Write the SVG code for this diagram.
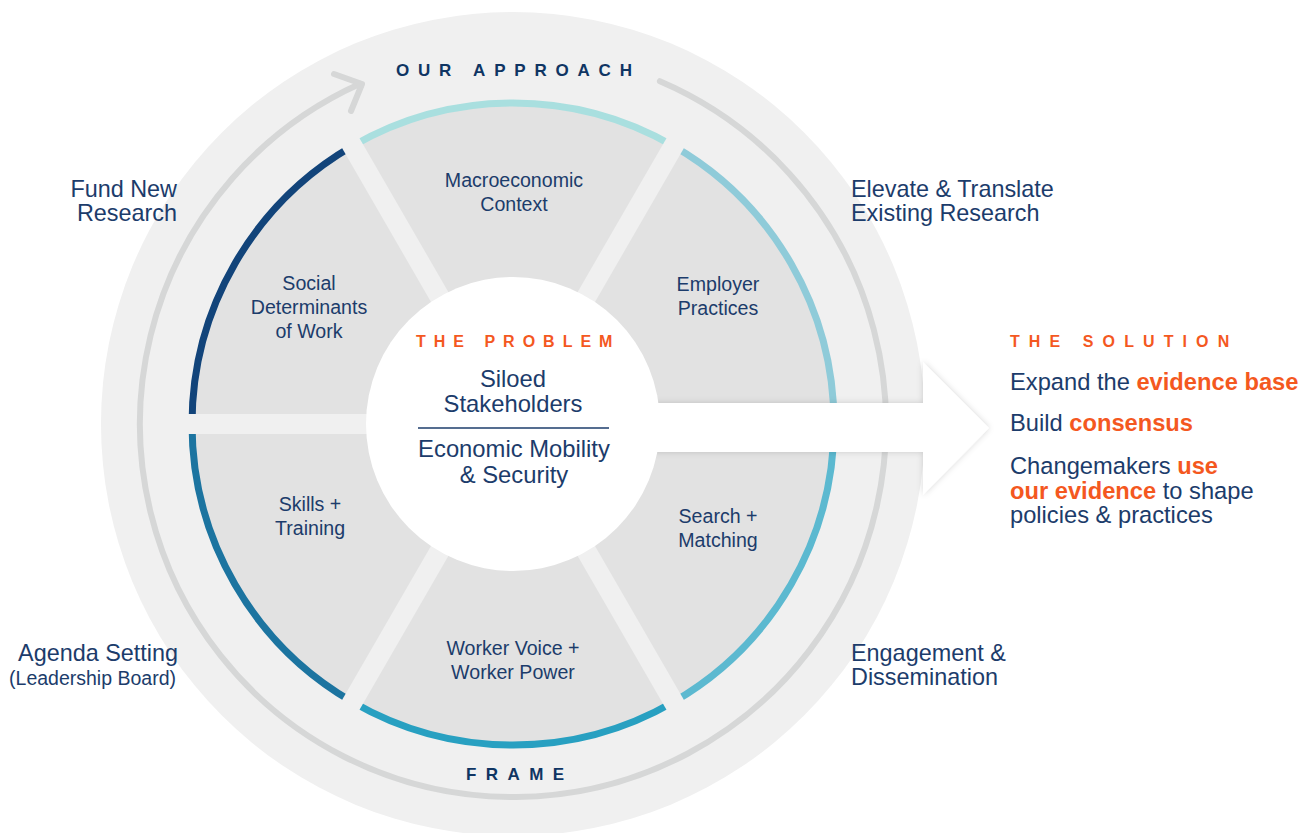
<svg xmlns="http://www.w3.org/2000/svg" width="1311" height="833" viewBox="0 0 1311 833">
  <defs>
    <filter id="soft" x="-20%" y="-40%" width="140%" height="180%">
      <feDropShadow dx="0" dy="0" stdDeviation="3" flood-color="#000" flood-opacity="0.16"/>
    </filter>
  </defs>
  <style>
    .navy { fill: #1c3c6b; font-family: "Liberation Sans", Arial, sans-serif; }
    .seg { font-size: 19.6px; text-anchor: middle; }
    .outer { font-size: 23.4px; }
    .mid { font-size: 23.8px; text-anchor: middle; }
    .sol { font-size: 23.7px; }
    .head { fill: #0f3563; font-family: "Liberation Sans", Arial, sans-serif; font-weight: bold; font-size: 17px; }
    .orange { fill: #f4581f; font-family: "Liberation Sans", Arial, sans-serif; font-weight: bold; }
    .cap { font-size: 16px; }
    .arc { fill: none; stroke-width: 7; }
    .gap { stroke: #f0f0f0; stroke-width: 20; }
  </style>

  <rect width="1311" height="833" fill="#ffffff"/>

  <!-- outer band -->
  <circle cx="513" cy="424" r="412" fill="#f0f0f0"/>

  <!-- cycle ring with arrow -->
  <g id="cycle">
    <path d="M659.9 81.2 A373 373 0 1 1 360.1 83.8" fill="none" stroke="#d6d7d7" stroke-width="6" stroke-linecap="round"/>
    <polyline points="334,74 362,84 351,111" fill="none" stroke="#d6d7d7" stroke-width="6" stroke-linecap="round" stroke-linejoin="round"/>
  </g>

  <!-- wedge field -->
  <circle cx="513" cy="424" r="321" fill="#e2e2e2"/>

  <!-- segment rims -->
  <g id="rims">
    <path class="arc" stroke="#12447a" d="M192 424 A321 321 0 0 1 352.5 146"/>
    <path class="arc" stroke="#a9dfdf" d="M352.5 146 A321 321 0 0 1 673.5 146"/>
    <path class="arc" stroke="#8fcbd9" d="M673.5 146 A321 321 0 0 1 834 424"/>
    <path class="arc" stroke="#5cb9d0" d="M834 424 A321 321 0 0 1 673.5 702"/>
    <path class="arc" stroke="#28a0c1" d="M673.5 702 A321 321 0 0 1 352.5 702"/>
    <path class="arc" stroke="#1c74a0" d="M352.5 702 A321 321 0 0 1 192 424"/>
  </g>

  <!-- spokes between segments -->
  <g id="spokes">
    <line class="gap" x1="178" y1="424" x2="848" y2="424"/>
    <line class="gap" x1="345.5" y1="133.9" x2="680.5" y2="714.1"/>
    <line class="gap" x1="680.5" y1="133.9" x2="345.5" y2="714.1"/>
  </g>

  <!-- connectors -->
  <g id="connectors">
    <path d="M600 403 H923 V362 L989 428 L923 495 V452 H600 Z" fill="#ffffff" filter="url(#soft)"/>
  </g>

  <!-- centre: the problem -->
  <g id="problem">
    <circle cx="513" cy="424" r="147" fill="#ffffff"/>
    <text class="orange cap" x="416" y="347" letter-spacing="8">THE PROBLEM</text>
    <text class="navy mid" x="513" y="387">Siloed</text>
    <text class="navy mid" x="513" y="412">Stakeholders</text>
    <line x1="418" y1="428" x2="609" y2="428" stroke="#1c3c6b" stroke-width="1.5"/>
    <text class="navy mid" x="514" y="457">Economic Mobility</text>
    <text class="navy mid" x="514" y="483">&amp; Security</text>
  </g>

  <!-- segment labels -->
  <g id="macro"><text class="navy seg" x="514" y="187">Macroeconomic</text><text class="navy seg" x="514" y="211">Context</text></g>
  <g id="employer"><text class="navy seg" x="718" y="291">Employer</text><text class="navy seg" x="718" y="315">Practices</text></g>
  <g id="search"><text class="navy seg" x="718" y="523">Search +</text><text class="navy seg" x="718" y="547">Matching</text></g>
  <g id="voice"><text class="navy seg" x="513" y="655">Worker Voice +</text><text class="navy seg" x="513" y="679">Worker Power</text></g>
  <g id="skills"><text class="navy seg" x="310" y="511">Skills +</text><text class="navy seg" x="310" y="535">Training</text></g>
  <g id="social"><text class="navy seg" x="309" y="290">Social</text><text class="navy seg" x="309" y="314">Determinants</text><text class="navy seg" x="309" y="338">of Work</text></g>

  <!-- ring titles -->
  <g id="approach"><text class="head" x="396" y="76" letter-spacing="8.8">OUR APPROACH</text></g>
  <g id="frame"><text class="head" x="466" y="780" letter-spacing="9.4">FRAME</text></g>

  <!-- approach steps -->
  <g id="fund"><text class="navy outer" text-anchor="end" x="177" y="197">Fund New</text><text class="navy outer" text-anchor="end" x="177" y="221">Research</text></g>
  <g id="elevate"><text class="navy outer" x="851" y="197">Elevate &amp; Translate</text><text class="navy outer" x="851" y="221">Existing Research</text></g>
  <g id="agenda"><text class="navy outer" text-anchor="end" x="178" y="661">Agenda Setting</text><text class="navy" font-size="19.5" text-anchor="end" x="176" y="685">(Leadership Board)</text></g>
  <g id="engage"><text class="navy outer" x="851" y="661">Engagement &amp;</text><text class="navy outer" x="851" y="685">Dissemination</text></g>

  <!-- the solution -->
  <g id="solution">
    <text class="orange cap" x="1010" y="347" letter-spacing="9.1">THE SOLUTION</text>
    <text class="navy sol" x="1010" y="390">Expand the <tspan class="orange">evidence base</tspan></text>
    <text class="navy sol" x="1010" y="431">Build <tspan class="orange">consensus</tspan></text>
    <text class="navy sol" x="1010" y="474">Changemakers <tspan class="orange">use</tspan></text>
    <text class="navy sol" x="1010" y="499"><tspan class="orange">our evidence</tspan> to shape</text>
    <text class="navy sol" x="1010" y="523">policies &amp; practices</text>
  </g>
</svg>
